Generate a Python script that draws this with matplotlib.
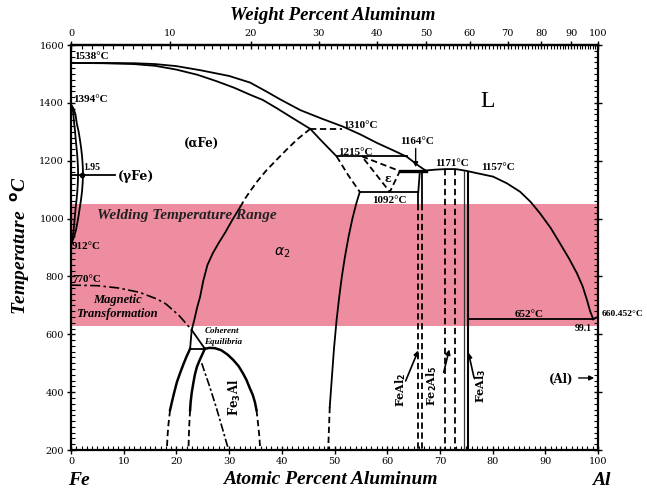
import numpy as np
import matplotlib
matplotlib.use('Agg')
import matplotlib.pyplot as plt

# ---------------- data (atomic % Al, temperature in C) ----------------
liq_fe_x = [0, 6, 12, 16, 20, 24.5, 30, 34, 37, 39.7, 43.5, 47.5, 51.6, 55, 58, 61, 63.7, 66, 67.3]
liq_fe_T = [1538, 1538, 1537, 1534, 1527, 1513, 1493, 1470, 1440, 1412, 1375, 1346, 1318, 1290, 1262, 1237, 1214, 1182, 1166]
sol_fe_x = [0, 6, 12, 16, 20, 24, 27.6, 31, 34, 36.4, 39, 42, 45.4]
sol_fe_T = [1538, 1537, 1534, 1528, 1515, 1497, 1475, 1452, 1428, 1410, 1382, 1348, 1310]
liq_al_x = [67.3, 69, 71, 73, 75, 77, 80.1, 82.7, 85.2, 87.2, 89, 91, 92.8, 94.5, 96, 97.1, 97.9, 98.5, 99.1]
liq_al_T = [1166, 1169, 1171, 1171, 1165, 1157, 1145, 1122, 1093, 1058, 1018, 968, 914, 862, 811, 765, 719, 680, 652]
al_end_x = [99.1, 100]
al_end_T = [652, 660.452]

gam_T = [1394, 1380, 1360, 1329, 1300, 1272, 1240, 1215, 1185, 1157, 1125, 1095, 1068, 1041, 1000, 961, 935, 912]
gam_out_x = [0, 0.5, 0.85, 1.1, 1.45, 1.7, 1.95, 2.1, 2.22, 2.28, 2.22, 2.1, 1.92, 1.7, 1.35, 0.95, 0.55, 0]
gam_in_x = [0, 0.3, 0.45, 0.6, 0.78, 0.9, 1.08, 1.2, 1.3, 1.35, 1.3, 1.2, 1.07, 0.9, 0.7, 0.5, 0.28, 0]

b2_dash_x = [45.4, 43, 41, 39, 37, 35.4, 34, 33, 32.1]
b2_dash_T = [1310, 1275, 1240, 1203, 1165, 1130, 1095, 1068, 1040]
b2_solid_x = [32.1, 30.6, 29.2, 28.0, 26.9, 25.9, 25.1, 24.5, 23.9, 23.4, 22.9]
b2_solid_T = [1040, 995, 950, 915, 880, 840, 785, 730, 690, 650, 615]

mag_x = [0, 5, 9, 13, 16.3, 18, 20.5, 22.9]
mag_T = [770, 768, 760, 745, 722, 705, 665, 615]

coh_vert_x = [22.9, 22.6]
coh_vert_T = [615, 550]
coh_diag_x = [22.9, 25.4]
coh_diag_T = [615, 550]

f3l_solid_x = [22.6, 21.9, 21.3, 20.7, 20.1, 19.6, 19.2, 18.8]
f3l_solid_T = [550, 522, 495, 466, 435, 400, 370, 338]
f3l_dash_x = [18.8, 18.5, 18.3, 18.2]
f3l_dash_T = [338, 290, 245, 200]
f3m_solid_x = [25.4, 24.9, 24.4, 23.9, 23.5, 23.2, 22.9, 22.7, 22.6]
f3m_solid_T = [550, 530, 510, 488, 460, 430, 397, 365, 338]
f3m_dash_x = [22.6, 22.45, 22.35, 22.3]
f3m_dash_T = [338, 290, 245, 200]
f3r_solid_x = [25.4, 26.3, 27.3, 28.5, 29.7, 30.8, 31.8, 32.6, 33.3, 33.9, 34.5, 34.9, 35.2]
f3r_solid_T = [550, 553, 552, 545, 530, 511, 490, 466, 442, 415, 390, 365, 338]
f3r_dash_x = [35.2, 35.5, 35.75, 35.9]
f3r_dash_T = [338, 290, 245, 200]
f3_dd_x = [24.8, 26.3, 27.6, 28.8, 29.9]
f3_dd_T = [500, 420, 345, 270, 200]

feal_a_x = [45.4, 47.2, 48.9, 50.4]
feal_a_T = [1310, 1275, 1243, 1215]
feal_b_x = [50.4, 52.6, 54.8]
feal_b_T = [1215, 1150, 1092]
feal_c_x = [54.8, 54.1, 53.4, 52.7, 52.0, 51.4, 50.9, 50.4, 49.9, 49.5, 49.1]
feal_c_T = [1092, 1050, 1000, 940, 870, 800, 730, 650, 550, 450, 349]
feal_d_x = [49.1, 48.8]
feal_d_T = [349, 200]

eps_x = [55.2, 62.4, 60.5, 55.2]
eps_T = [1215, 1164, 1092, 1215]

# isotherms
iso_T = [1310, 1215, 1164, 1092, 1150, 652, 550]
iso_x0 = [45.4, 50.4, 62.4, 54.8, 0, 75.3, 22.6]
iso_x1 = [51.5, 63.7, 67.3, 65.9, 8.3, 99.1, 25.4]

feal2_left_x = 65.8
feal2_right_x = 66.6
fe2al5_x = [71.0, 72.8]
feal3_x = [74.5, 75.3]

weld_T = [630, 1050]

bottom_ticks = [0, 10, 20, 30, 40, 50, 60, 70, 80, 90, 100]
left_ticks = [200, 400, 600, 800, 1000, 1200, 1400, 1600]
wt_ticks = [0, 10, 20, 30, 40, 50, 60, 70, 80, 90, 100]

# ---------------- figure ----------------
fig = plt.figure(figsize=(6.47, 4.90), dpi=100)
ax = fig.add_axes([71/647, 40/490, 527/647, 405/490])
ax.set_xlim(0, 100)
ax.set_ylim(200, 1600)

pink = '#EE8D9F'
ax.axhspan(weld_T[0], weld_T[1], color=pink, zorder=0, lw=0)

k = dict(color='black', lw=1.3, zorder=3, solid_joinstyle='round')
kd = dict(color='black', lw=1.3, ls=(0, (3.5, 2)), zorder=3)
kb = dict(color='black', lw=1.8, zorder=3, solid_joinstyle='round')

ax.plot(liq_fe_x, liq_fe_T, **k)
ax.plot(sol_fe_x, sol_fe_T, **k)
ax.plot(liq_al_x, liq_al_T, **k)
ax.plot(al_end_x, al_end_T, **k)
ax.plot(gam_out_x, gam_T, **k)
ax.plot(gam_in_x, gam_T, **k)
ax.plot(b2_dash_x, b2_dash_T, **kd)
ax.plot(b2_solid_x, b2_solid_T, **k)
ax.plot(mag_x, mag_T, color='black', lw=1.2, ls=(0, (6, 2, 1.5, 2)), zorder=3)
ax.plot(coh_vert_x, coh_vert_T, **k)
ax.plot(coh_diag_x, coh_diag_T, **k)
ax.plot(f3l_solid_x, f3l_solid_T, **kb)
ax.plot(f3l_dash_x, f3l_dash_T, **kd)
ax.plot(f3m_solid_x, f3m_solid_T, **kb)
ax.plot(f3m_dash_x, f3m_dash_T, **kd)
ax.plot(f3r_solid_x, f3r_solid_T, **kb)
ax.plot(f3r_dash_x, f3r_dash_T, **kd)
ax.plot(f3_dd_x, f3_dd_T, color='black', lw=1.2, ls=(0, (5, 1.5, 1.5, 1.5)), zorder=3)
ax.plot(feal_a_x, feal_a_T, **k)
ax.plot(feal_b_x, feal_b_T, **kd)
ax.plot(feal_c_x, feal_c_T, **k)
ax.plot(feal_d_x, feal_d_T, **kd)
ax.plot(eps_x, eps_T, **kd)

for T, x0, x1 in zip(iso_T, iso_x0, iso_x1):
    if T == 1310:
        ax.plot([x0, x1], [T, T], **kd)
    elif T == 1164:
        ax.plot([x0, x1], [T, T], color='black', lw=2.4, zorder=3)
    else:
        ax.plot([x0, x1], [T, T], **k)
ax.plot([2.0], [1150], 'o', color='black', ms=3, zorder=4)

# FeAl2
ax.plot([iso_x1[3], 66.2], [1092, 1164], **k)
ax.plot([feal2_left_x, feal2_left_x], [1092, weld_T[1]], **k)
ax.plot([feal2_left_x, feal2_left_x], [weld_T[1], 200], **kd)
ax.plot([feal2_right_x, feal2_right_x], [1164, weld_T[1]], **k)
ax.plot([feal2_right_x, feal2_right_x], [weld_T[1], 200], **kd)
# Fe2Al5
for xv in fe2al5_x:
    ax.plot([xv, xv], [1171, 200], **kd)
# FeAl3
ax.plot([feal3_x[0], feal3_x[0]], [1163, 200], color='#333333', lw=0.9, zorder=3)
ax.plot([feal3_x[1], feal3_x[1]], [1160, 200], color='black', lw=1.5, zorder=3)

# ---------------- axes styling ----------------
for s in ax.spines.values():
    s.set_linewidth(1.6)
ax.set_xticks(bottom_ticks)
ax.set_yticks(left_ticks)
ax.set_xticks(np.arange(0, 101, 1), minor=True)
ax.set_yticks(np.arange(200, 1601, 20), minor=True)
ax.tick_params(axis='both', which='major', direction='inout', length=6, width=1, labelsize=7)
ax.tick_params(axis='both', which='minor', direction='in', length=3, width=0.8)
ax.tick_params(axis='y', which='both', right=True)
ax.tick_params(axis='y', which='major', pad=2)
ax.tick_params(axis='x', which='major', pad=2)
for lab in ax.get_xticklabels() + ax.get_yticklabels():
    lab.set_fontfamily('DejaVu Serif')

def at2wt(a):
    a = np.asarray(a, dtype=float)
    return 100 * a * 26.98 / (a * 26.98 + (100 - a) * 55.845)

def wt2at(w):
    w = np.asarray(w, dtype=float)
    return 100 * (w / 26.98) / (w / 26.98 + (100 - w) / 55.845)

sec = ax.secondary_xaxis('top', functions=(at2wt, wt2at))
sec.set_xticks(wt_ticks)
sec.set_xticks(np.arange(0, 101, 1), minor=True)
sec.tick_params(which='major', direction='inout', length=6, width=1, labelsize=7, pad=2)
sec.tick_params(which='minor', direction='in', length=3, width=0.8)
for lab in sec.get_xticklabels():
    lab.set_fontfamily('DejaVu Serif')
sec.spines['top'].set_linewidth(1.6)

# ---------------- labels ----------------
bi = dict(family='Liberation Serif', weight='bold', style='italic')
ann = dict(family='Liberation Serif', weight='bold', size=8, zorder=5)

fig.text(333/647, 1 - 15/490, 'Weight Percent Aluminum', ha='center', va='center', size=13.5, **bi)
fig.text(330/647, 1 - 479/490, 'Atomic Percent Aluminum', ha='center', va='center', size=14, **bi)
fig.text(68/647, 1 - 480/490, 'Fe', ha='left', va='center', size=14, **bi)
fig.text(592/647, 1 - 480/490, 'Al', ha='left', va='center', size=14, **bi)
fig.text(20/647, 1 - 245/490, 'Temperature  $^{\\mathbf{o}}$C', ha='center', va='center', size=14,
         rotation=90, **bi)

ax.text(0.6, 1559, '1538°C', ha='left', va='center', **ann)
ax.text(0.4, 1410, '1394°C', ha='left', va='center', **ann)
ax.text(2.3, 1178, '1.95', ha='left', va='center', family='Liberation Serif', weight='bold', size=7)
ax.text(8.9, 1147, '(γFe)', ha='left', va='center', family='DejaVu Serif', weight='bold', size=9)
ax.text(0.2, 902, '912°C', ha='left', va='center', **ann)
ax.text(0.2, 791, '770°C', ha='left', va='center', **ann)
ax.text(24.7, 1261, '(αFe)', ha='center', va='center', family='DejaVu Serif', weight='bold', size=8.5)
ax.text(51.6, 1323, '1310°C', ha='left', va='center', **ann)
ax.text(50.7, 1230, '1215°C', ha='left', va='center', **ann)
ax.text(65.7, 1268, '1164°C', ha='center', va='center', **ann)
ax.annotate('', xy=(65.4, 1168), xytext=(65.4, 1252),
            arrowprops=dict(arrowstyle='-|>', color='black', lw=1, mutation_scale=7), zorder=5)
ax.text(60.2, 1140, 'ε', ha='center', va='center', family='DejaVu Serif', weight='bold', size=8)
ax.text(60.4, 1064, '1092°C', ha='center', va='center', **ann)
ax.text(72.3, 1189, '1171°C', ha='center', va='center', **ann)
ax.text(81.0, 1178, '1157°C', ha='center', va='center', **ann)
ax.text(79.0, 1403, 'L', ha='center', va='center', family='Liberation Serif', size=17)
ax.text(4.9, 1012, 'Welding Temperature Range', ha='left', va='center', size=11,
        color='#222222', zorder=5, **bi)
ax.text(40.0, 881, r'$\alpha_2$', ha='center', va='center', size=10, zorder=5)
ax.text(8.8, 719, 'Magnetic', ha='center', va='center', size=9, zorder=5, **bi)
ax.text(8.8, 670, 'Transformation', ha='center', va='center', size=9, zorder=5, **bi)
ax.text(28.6, 611, 'Coherent', ha='center', va='center', size=6.5, zorder=5, **bi)
ax.text(28.9, 573, 'Equilibria', ha='center', va='center', size=6.5, zorder=5, **bi)
ax.text(31.1, 383, r'Fe$_{\mathbf{3}}$Al', ha='center', va='center', rotation=90,
        family='DejaVu Serif', weight='bold', size=8.5, zorder=5)
ax.text(86.9, 670, '652°C', ha='center', va='center', **ann)
ax.text(100.6, 670, '660.452°C', ha='left', va='center', clip_on=False,
        family='Liberation Serif', weight='bold', size=6.8)
ax.text(97.2, 621, '99.1', ha='center', va='center', family='Liberation Serif', weight='bold',
        size=7, zorder=5)
ax.text(93.0, 445, '(Al)', ha='center', va='center', family='DejaVu Serif', weight='bold', size=8.5)
ax.annotate('', xy=(99.8, 449), xytext=(95.8, 449),
            arrowprops=dict(arrowstyle='-|>', color='black', lw=1, mutation_scale=7))

ax.text(62.6, 407, r'FeAl$_{\mathbf{2}}$', ha='center', va='center', rotation=90,
        family='DejaVu Serif', weight='bold', size=8, zorder=5)
ax.annotate('', xy=(66.1, 553), xytext=(63.3, 430),
            arrowprops=dict(arrowstyle='-|>', color='black', lw=1.2, mutation_scale=7))
ax.text(68.5, 424, r'Fe$_{\mathbf{2}}$Al$_{\mathbf{5}}$', ha='center', va='center', rotation=90,
        family='DejaVu Serif', weight='bold', size=8, zorder=5)
ax.annotate('', xy=(71.9, 557), xytext=(70.6, 459),
            arrowprops=dict(arrowstyle='-|>', color='black', lw=1.2, mutation_scale=7))
ax.text(77.8, 421, r'FeAl$_{\mathbf{3}}$', ha='center', va='center', rotation=90,
        family='DejaVu Serif', weight='bold', size=8, zorder=5)
ax.annotate('', xy=(75.3, 546), xytext=(76.6, 440),
            arrowprops=dict(arrowstyle='-|>', color='black', lw=1.2, mutation_scale=7))

fig.savefig('out.png', dpi=100)
